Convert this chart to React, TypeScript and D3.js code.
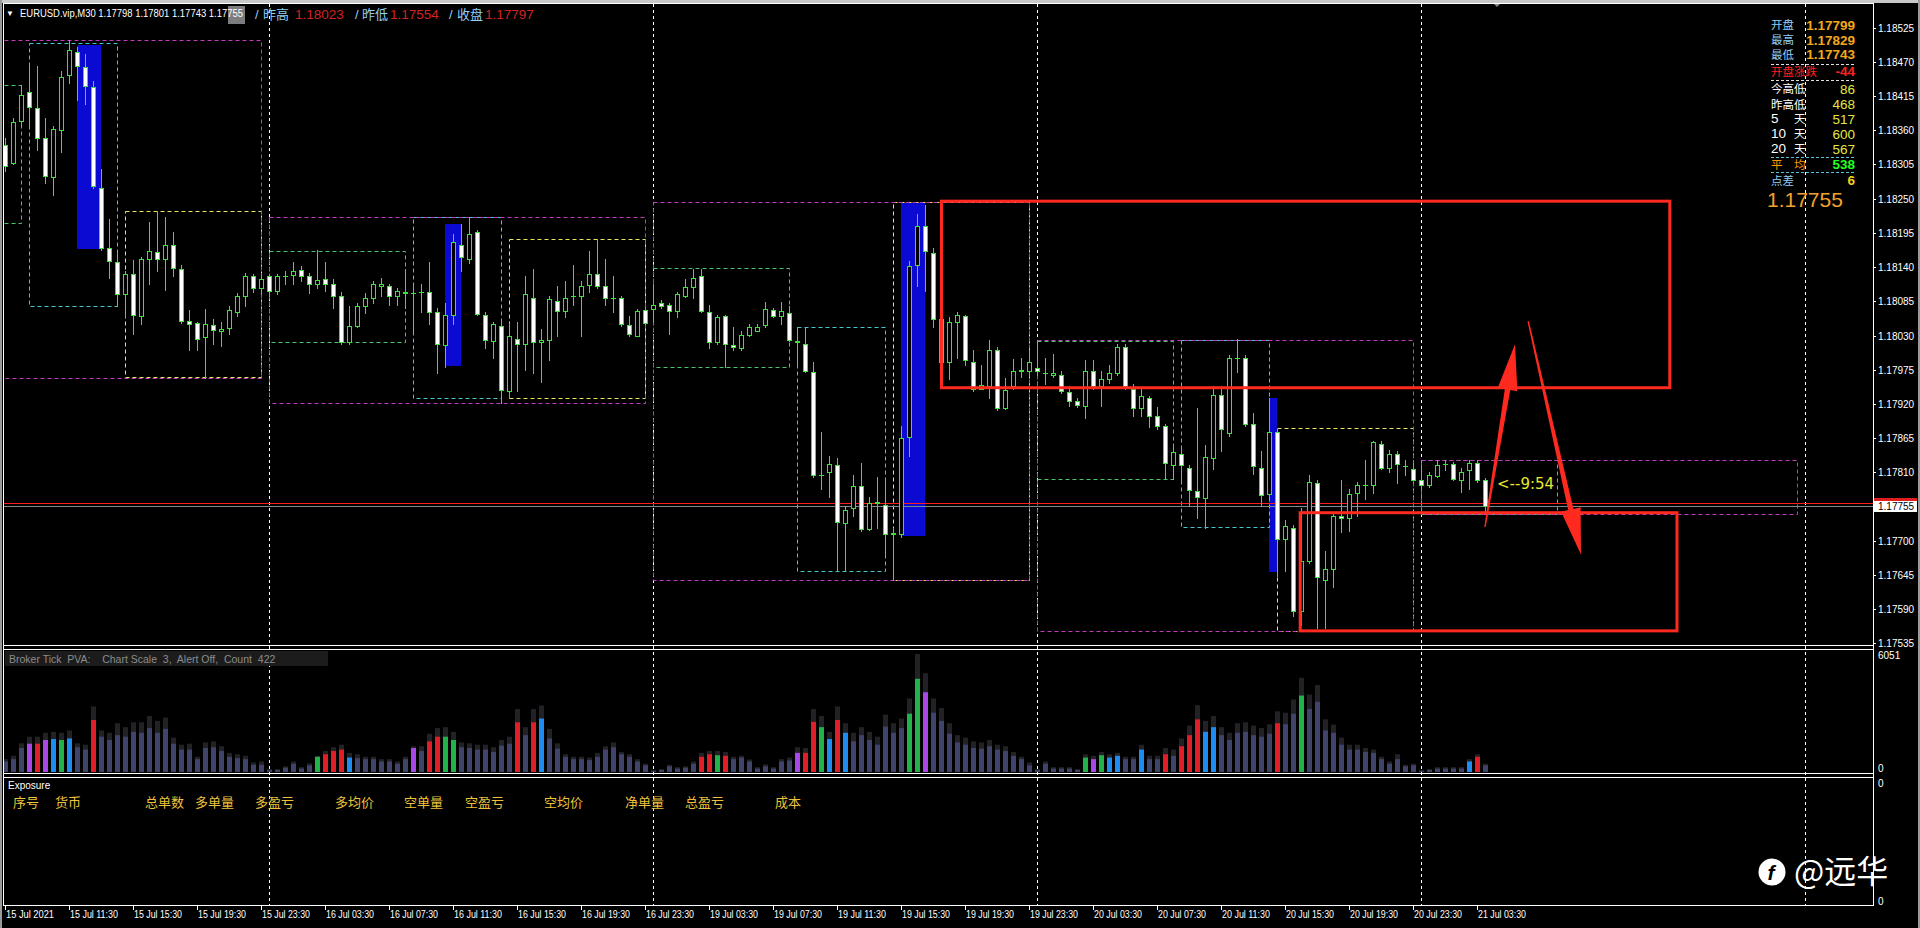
import React from "react";
import * as d3 from "d3";

const SANS = "'Liberation Sans', Arial, sans-serif";
const CJK = "'Noto Sans CJK SC', 'Noto Sans', sans-serif";

// ---------- data ----------
const opens = [
1.18336,1.18308,1.18375,1.18421,1.18396,1.18348,1.18285,1.18361,1.18449,1.18486,
1.18461,1.18429,1.18267,1.18171,1.18148,1.18096,1.18129,1.18062,1.18153,1.18165,
1.18153,1.18175,1.18137,1.18053,1.18050,1.18027,1.18047,1.18038,1.18042,1.18067,
1.18093,1.18125,1.18106,1.18125,1.18102,1.18125,1.18127,1.18135,1.18126,1.18113,
1.18121,1.18113,1.18094,1.18020,1.18046,1.18077,1.18090,1.18110,1.18110,1.18094,
1.18100,1.18098,1.18100,1.18100,1.18067,1.18015,1.18063,1.18176,1.18153,1.18196,
1.18063,1.18021,1.18046,1.17940,1.18025,1.18016,1.18090,1.18020,1.18023,1.18085,
1.18069,1.18094,1.18094,1.18112,1.18129,1.18110,1.18090,1.18090,1.18047,1.18030,
1.18071,1.18073,1.18083,1.18079,1.18069,1.18094,1.18108,1.18125,1.18067,1.18020,
1.18061,1.18015,1.18010,1.18031,1.18038,1.18047,1.18071,1.18061,1.18066,1.18021,
1.18016,1.17971,1.17806,1.17810,1.17821,1.17729,1.17752,1.17788,1.17719,1.17761,
1.17757,1.17712,1.17710,1.17867,1.18144,1.18206,1.18163,1.18056,1.17987,1.18052,
1.18061,1.17987,1.17944,1.17948,1.18006,1.17913,1.17948,1.17973,1.17973,1.17977,
1.17969,1.17966,1.17967,1.17939,1.17924,1.17917,1.17973,1.17948,1.17960,1.17970,
1.18012,1.17944,1.17913,1.17930,1.17900,1.17884,1.17821,1.17840,1.17817,1.17780,
1.17769,1.17833,1.17935,1.17873,1.17994,1.17994,1.17887,1.17817,1.17775,1.17875,
1.17702,1.17721,1.17587,1.17667,1.17793,1.17637,1.17654,1.17740,1.17737,1.17777,
1.17789,1.17789,1.17856,1.17817,1.17840,1.17820,1.17815,1.17798,1.17790,1.17804,
1.17823,1.17823,1.17798,1.17813,1.17825,1.17798];
const highs = [
1.18348,1.18379,1.18433,1.18469,1.18463,1.18379,1.18367,1.18456,1.18506,1.18494,
1.18483,1.18440,1.18298,1.18217,1.18163,1.18133,1.18152,1.18156,1.18213,1.18230,
1.18220,1.18196,1.18144,1.18071,1.18052,1.18073,1.18056,1.18052,1.18077,1.18098,
1.18130,1.18129,1.18127,1.18129,1.18129,1.18134,1.18148,1.18142,1.18130,1.18167,
1.18148,1.18121,1.18100,1.18077,1.18083,1.18098,1.18117,1.18123,1.18113,1.18106,
1.18137,1.18113,1.18113,1.18148,1.18075,1.18083,1.18194,1.18210,1.18220,1.18200,
1.18067,1.18052,1.18056,1.18050,1.18052,1.18125,1.18137,1.18040,1.18094,1.18110,
1.18117,1.18143,1.18117,1.18166,1.18185,1.18153,1.18125,1.18094,1.18061,1.18073,
1.18075,1.18113,1.18087,1.18083,1.18100,1.18121,1.18137,1.18137,1.18079,1.18063,
1.18063,1.18044,1.18038,1.18048,1.18048,1.18084,1.18075,1.18084,1.18077,1.18044,
1.18044,1.17987,1.17875,1.17837,1.17833,1.17756,1.17806,1.17825,1.17771,1.17802,
1.17798,1.17721,1.17884,1.18150,1.18225,1.18240,1.18171,1.18060,1.18060,1.18067,
1.18063,1.18007,1.17983,1.18023,1.18012,1.17961,1.17992,1.17994,1.18006,1.18021,
1.17994,1.18000,1.17973,1.17948,1.17929,1.17990,1.17990,1.17973,1.17983,1.18017,
1.18017,1.17952,1.17946,1.17933,1.17915,1.17887,1.17854,1.17852,1.17821,1.17913,
1.17854,1.17948,1.17948,1.17998,1.18025,1.17998,1.17906,1.17844,1.17929,1.17879,
1.17733,1.17725,1.17752,1.17806,1.17798,1.17683,1.17744,1.17798,1.17783,1.17794,
1.17829,1.17861,1.17860,1.17846,1.17844,1.17829,1.17825,1.17821,1.17810,1.17830,
1.17830,1.17827,1.17817,1.17829,1.17829,1.17801];
const lows = [
1.18294,1.18306,1.18367,1.18367,1.18329,1.18275,1.18256,1.18325,1.18436,1.18409,
1.18402,1.18267,1.18167,1.18123,1.18077,1.18060,1.18033,1.18048,1.18113,1.18133,
1.18103,1.18125,1.18050,1.18007,1.18006,1.17961,1.18017,1.18013,1.18033,1.18061,
1.18077,1.18100,1.18098,1.18094,1.18096,1.18113,1.18113,1.18117,1.18098,1.18107,
1.18102,1.18075,1.18017,1.18017,1.18044,1.18066,1.18083,1.18094,1.18079,1.18079,
1.18075,1.18037,1.18067,1.18048,1.17969,1.17979,1.18048,1.18133,1.18146,1.18063,
1.18010,1.17994,1.17921,1.17929,1.17940,1.17975,1.17969,1.17956,1.17990,1.18029,
1.18060,1.18079,1.18030,1.18100,1.18106,1.18079,1.18067,1.18046,1.18030,1.18029,
1.18048,1.18052,1.18075,1.18033,1.18060,1.18092,1.18090,1.18067,1.18010,1.18017,
1.17979,1.18006,1.18007,1.18029,1.18037,1.18044,1.18060,1.18048,1.18021,1.17979,
1.17971,1.17802,1.17783,1.17771,1.17652,1.17652,1.17740,1.17715,1.17717,1.17721,
1.17679,1.17637,1.17706,1.17837,1.18110,1.18102,1.18044,1.17983,1.17960,1.17994,
1.17983,1.17940,1.17944,1.17929,1.17910,1.17912,1.17944,1.17963,1.17967,1.17967,
1.17952,1.17963,1.17937,1.17917,1.17915,1.17898,1.17944,1.17917,1.17953,1.17967,
1.17944,1.17900,1.17900,1.17883,1.17879,1.17800,1.17800,1.17798,1.17756,1.17737,
1.17721,1.17815,1.17844,1.17869,1.17971,1.17884,1.17807,1.17756,1.17771,1.17644,
1.17652,1.17579,1.17564,1.17664,1.17560,1.17560,1.17625,1.17714,1.17715,1.17740,
1.17767,1.17777,1.17815,1.17810,1.17792,1.17806,1.17797,1.17787,1.17787,1.17802,
1.17813,1.17798,1.17779,1.17783,1.17794,1.17743];
const closes = [
1.18302,1.18373,1.18417,1.18398,1.18348,1.18286,1.18362,1.18446,1.18489,1.18463,
1.18431,1.18270,1.18171,1.18150,1.18096,1.18129,1.18063,1.18153,1.18166,1.18153,
1.18175,1.18139,1.18053,1.18048,1.18025,1.18048,1.18039,1.18040,1.18071,1.18093,
1.18125,1.18106,1.18121,1.18102,1.18125,1.18126,1.18134,1.18125,1.18113,1.18120,
1.18113,1.18094,1.18020,1.18046,1.18077,1.18090,1.18113,1.18113,1.18094,1.18102,
1.18099,1.18098,1.18100,1.18067,1.18017,1.18063,1.18180,1.18156,1.18194,1.18065,
1.18023,1.18048,1.17943,1.18029,1.18017,1.18096,1.18020,1.18023,1.18088,1.18070,
1.18090,1.18094,1.18110,1.18129,1.18110,1.18090,1.18090,1.18048,1.18033,1.18070,
1.18050,1.18079,1.18077,1.18069,1.18096,1.18108,1.18123,1.18069,1.18020,1.18060,
1.18016,1.18011,1.18031,1.18044,1.18044,1.18073,1.18062,1.18069,1.18023,1.18020,
1.17973,1.17806,1.17805,1.17823,1.17730,1.17750,1.17788,1.17719,1.17760,1.17762,
1.17711,1.17711,1.17865,1.18142,1.18206,1.18166,1.18056,1.17987,1.18052,1.18063,
1.17990,1.17944,1.17950,1.18007,1.17913,1.17943,1.17973,1.17974,1.17987,1.17973,
1.17969,1.17969,1.17940,1.17925,1.17919,1.17973,1.17948,1.17960,1.17970,1.18012,
1.17948,1.17913,1.17933,1.17900,1.17884,1.17825,1.17842,1.17821,1.17781,1.17771,
1.17834,1.17935,1.17879,1.17994,1.17994,1.17887,1.17820,1.17774,1.17875,1.17702,
1.17723,1.17587,1.17667,1.17794,1.17642,1.17654,1.17740,1.17737,1.17775,1.17789,
1.17789,1.17858,1.17817,1.17840,1.17823,1.17820,1.17798,1.17789,1.17806,1.17821,
1.17823,1.17800,1.17810,1.17825,1.17798,1.17755];

const tickVolume = [
540,660,1230,1450,1450,1640,1690,1640,1720,1270,
1150,2670,1810,1640,1890,1810,2060,2010,2250,2010,
2210,1450,1150,1150,660,1230,1270,1080,780,710,
660,370,370,100,100,220,420,170,340,780,
910,1080,1150,740,710,660,660,540,540,420,
660,1230,1080,1570,1810,1810,1640,1270,1230,1150,
1150,1030,1350,1450,2550,1890,2550,2740,1720,1200,
780,660,660,610,780,1150,1270,910,780,540,
340,50,100,290,170,220,420,780,910,860,
830,660,740,540,170,290,170,540,590,980,
980,2570,2300,1690,2670,2010,1570,1890,1640,1400,
2330,2010,2250,2990,4780,4090,3040,2620,1960,1520,
1400,1230,1200,1320,1150,1080,830,660,340,100,
420,170,170,170,100,740,660,860,740,830,
660,660,1150,660,660,910,830,1320,1890,2700,
2060,2300,1890,1640,2010,2060,1890,1810,1960,2500,
2450,2990,3920,3230,3600,2130,2010,1400,1150,1150,
1030,980,660,420,660,290,340,50,100,170,
170,170,170,540,780,340];
const tickVolumeHigh = [
660,830,1470,1810,1810,2010,2060,2010,2130,1470,
1400,3360,2130,2010,2500,2300,2550,2550,2870,2620,
2790,1760,1400,1450,780,1520,1570,1320,980,910,
830,490,540,150,150,290,540,250,440,830,
1080,1270,1400,980,910,780,780,660,660,540,
780,1320,1320,1960,2250,2300,2060,1520,1470,1400,
1400,1270,1640,1810,3230,2300,3230,3410,2210,1470,
910,780,780,740,980,1320,1520,1030,910,660,
420,100,150,370,250,290,540,980,1080,1080,
1030,780,830,640,250,390,250,660,740,1270,
1230,3230,2870,2060,3360,2500,2010,2300,2060,1810,
2940,2500,2740,3770,6051,5070,3770,3280,2500,1890,
1760,1570,1520,1640,1400,1320,1030,780,490,150,
540,250,250,250,150,910,830,1030,910,980,
780,780,1400,830,830,1230,1150,1720,2380,3430,
2620,2870,2300,2010,2500,2550,2380,2250,2450,3110,
3040,3720,4830,3970,4460,2700,2430,1760,1400,1400,
1230,1150,780,540,910,370,420,100,150,250,
250,250,250,660,910,420];
// s = plain, r/g/b/p = signal colours of the PVA indicator
const volumeClass = (
  "sssprpbgbs" + "srssssssss" + "ssssssssss" + "sssssssssg" + "rrrbssssss" +
  "spsrrggsss" + "ssssrsrbss" + "ssssssssss" + "sssssssrrg" + "rssssssssp" +
  "rrgbrbssss" + "sssggpssss" + "ssssssssss" + "sssssgpgbb" + "ssbssrsrrr" +
  "bbsssssssr" + "ssgsssssss" + "ssssssssss" + "sssbrs").split("");

const timeLabels = ["15 Jul 2021","15 Jul 11:30","15 Jul 15:30","15 Jul 19:30","15 Jul 23:30","16 Jul 03:30","16 Jul 07:30","16 Jul 11:30","16 Jul 15:30","16 Jul 19:30","16 Jul 23:30","19 Jul 03:30","19 Jul 07:30","19 Jul 11:30","19 Jul 15:30","19 Jul 19:30","19 Jul 23:30","20 Jul 03:30","20 Jul 07:30","20 Jul 11:30","20 Jul 15:30","20 Jul 19:30","20 Jul 23:30","21 Jul 03:30"];
const timeLabelBars = [0,8,16,24,32,40,48,56,64,72,80,88,96,104,112,120,128,136,144,152,160,168,176,184];
const priceTicks = ["1.18525","1.18470","1.18415","1.18360","1.18305","1.18250","1.18195","1.18140","1.18085","1.18030","1.17975","1.17920","1.17865","1.17810","1.17755","1.17700","1.17645","1.17590","1.17535"];
const daySeparatorBars = [33, 81, 129, 177, 225];

const dayBoxes = [
  { s: -15, e: 32, hi: 1.18506, lo: 1.17962 },
  { s: 33, e: 80, hi: 1.18220, lo: 1.17921 },
  { s: 81, e: 128, hi: 1.18245, lo: 1.17637 },
  { s: 129, e: 176, hi: 1.18023, lo: 1.17555 },
  { s: 177, e: 224, hi: 1.17830, lo: 1.17743 },
];
const asiaBoxes = [
  { s: -15, e: 2, hi: 1.18433, lo: 1.18211 },
  { s: 33, e: 50, hi: 1.18166, lo: 1.18020 },
  { s: 81, e: 98, hi: 1.18139, lo: 1.17979 },
  { s: 129, e: 146, hi: 1.18021, lo: 1.17799 },
  { s: 177, e: 194, hi: 1.17830, lo: 1.17743 },
];
const europeBoxes = [
  { s: 3, e: 14, hi: 1.18500, lo: 1.18077 },
  { s: 51, e: 62, hi: 1.18220, lo: 1.17929 },
  { s: 99, e: 110, hi: 1.18043, lo: 1.17652 },
  { s: 147, e: 158, hi: 1.18023, lo: 1.17722 },
];
const usBoxes = [
  { s: 15, e: 32, hi: 1.18230, lo: 1.17963 },
  { s: 63, e: 80, hi: 1.18185, lo: 1.17930 },
  { s: 111, e: 128, hi: 1.18245, lo: 1.17637 },
  { s: 159, e: 176, hi: 1.17881, lo: 1.17555 },
];
const impulseZones = [
  { s: 9, e: 12, hi: 1.18497, lo: 1.18169 },
  { s: 55, e: 57, hi: 1.18209, lo: 1.17981 },
  { s: 112, e: 115, hi: 1.18243, lo: 1.17708 },
  { s: 158, e: 159, hi: 1.17929, lo: 1.17650 },
];
const markBoxes = [
  { s: 117.06, e: 208.1, hi: 1.18246, lo: 1.17946 },
  { s: 161.9, e: 209, hi: 1.17745, lo: 1.17555 },
];
const markArrows = [
  { s: 185, p0: 1.17722, e: 188.75, p1: 1.18016 },
  { s: 190.4, p0: 1.18053, e: 197, p1: 1.17678 },
];

const bidPrice = 1.17755;
const askPrice = 1.17761;

const infoNames = [["开盘"], ["最高"], ["最低"], ["开盘涨跌"], ["今高低"], ["昨高低"], ["5", "天"], ["10", "天"], ["20", "天"], ["平", "均"], ["点差"]];
const infoValues = ["1.17799", "1.17829", "1.17743", "-44", "86", "468", "517", "600", "567", "538", "6"];
const infoNameColors = ["#92cff5", "#92cff5", "#92cff5", "#ff2222", "#ffffff", "#ffffff", "#ffffff", "#ffffff", "#ffffff", "#ff9a00", "#92cff5"];
const infoValueColors = ["#f2a81d", "#f2a81d", "#f2a81d", "#ff2222", "#e6e640", "#e6e640", "#e6e640", "#e6e640", "#e6e640", "#22ff22", "#f6d21c"];
const infoValueBold = [true, true, true, true, false, false, false, false, false, true, true];
const infoRowY = [24.7, 39.7, 54, 71, 88.7, 104, 118.7, 133.7, 148.7, 164, 180];

const exposureHeaders = ["序号", "货币", "总单数", "多单量", "多盈亏", "多均价", "空单量", "空盈亏", "空均价", "净单量", "总盈亏", "成本"];
const exposureHeaderX = [13, 55, 145, 195, 255, 335, 404, 465, 544, 625, 685, 775];

const VOL_COLORS: Record<string, string> = { s: "#40436a", r: "#e01e28", g: "#22b24a", b: "#1e8cf0", p: "#a848e6" };

function taper(x1: number, y1: number, x2: number, y2: number, w0: number, w1: number, headLen: number, headHalf: number) {
  const dx = x2 - x1, dy = y2 - y1;
  const L = Math.hypot(dx, dy);
  const ux = dx / L, uy = dy / L;
  const px = -uy, py = ux;
  const bx = x2 - ux * headLen, by = y2 - uy * headLen;
  const pts = [
    [x1 + px * w0 / 2, y1 + py * w0 / 2],
    [bx + px * w1 / 2, by + py * w1 / 2],
    [bx + px * headHalf, by + py * headHalf],
    [x2, y2],
    [bx - px * headHalf, by - py * headHalf],
    [bx - px * w1 / 2, by - py * w1 / 2],
    [x1 - px * w0 / 2, y1 - py * w0 / 2],
  ];
  return pts.map((p) => p[0].toFixed(1) + "," + p[1].toFixed(1)).join(" ");
}

export default function App() {
  const x = d3.scaleLinear().domain([0, 185]).range([5, 1485]);
  const y = d3.scaleLinear().domain([1.17535, 1.18525]).range([643.3, 27.7]);
  const vy = d3.scaleLinear().domain([0, 6051]).range([772, 654]);

  const RIGHT = 1873;
  const px = (i: number) => Math.round(x(i));
  const py = (p: number) => Math.round(y(p));

  const dashedBox = (b: any, color: string, key: string) => (
    <rect key={key} x={px(b.s) + 0.5} y={py(b.hi) + 0.5} width={px(b.e) - px(b.s)} height={py(b.lo) - py(b.hi)}
      fill="none" stroke={color} strokeWidth={1} strokeDasharray="4,3" />
  );

  return (
    <div style={{ position: "fixed", left: 0, top: 0, width: 1920, height: 928, background: "#000" }}>
      <svg width={1920} height={928} style={{ display: "block" }}>
        <defs>
          <clipPath id="mainClip"><rect x={4} y={4} width={RIGHT - 4} height={641} /></clipPath>
          <clipPath id="volClip"><rect x={4} y={650} width={RIGHT - 4} height={123} /></clipPath>
        </defs>
        <rect x={0} y={0} width={1920} height={928} fill="#000" />
        {/* window frame */}
        <rect x={0} y={0} width={1920} height={3} fill="#c8c8c8" />
        <rect x={0} y={0} width={2} height={928} fill="#9a9a9a" />
        <rect x={1918} y={0} width={2} height={928} fill="#9a9a9a" />
        <polygon points={`${x(186.5) - 4},3 ${x(186.5) + 4},3 ${x(186.5)},7`} fill="#8a8a8a" />

        {/* day separators */}
        {daySeparatorBars.map((b) => (
          <line key={"sep" + b} x1={px(b) + 0.5} x2={px(b) + 0.5} y1={4} y2={905} stroke="#ffffff" strokeWidth={1} strokeDasharray="3,3" />
        ))}

        <g clipPath="url(#mainClip)">
          {impulseZones.map((z, k) => (
            <rect key={"bz" + k} x={px(z.s)} y={py(z.hi)} width={px(z.e) - px(z.s)} height={py(z.lo) - py(z.hi)} fill="#0a0ad2" />
          ))}
          {usBoxes.map((b, k) => dashedBox(b, "#e8e85a", "u" + k))}
          {europeBoxes.map((b, k) => dashedBox(b, "#44c8c8", "e" + k))}
          {asiaBoxes.map((b, k) => dashedBox(b, "#4cc46e", "a" + k))}
          {dayBoxes.map((b, k) => dashedBox(b, "#c23cc2", "d" + k))}

          {/* price lines */}
          <line x1={3} x2={RIGHT} y1={py(bidPrice) + 0.5} y2={py(bidPrice) + 0.5} stroke="#7d8a90" strokeWidth={1} />
          <line x1={3} x2={RIGHT} y1={py(askPrice) + 0.5} y2={py(askPrice) + 0.5} stroke="#ff1c1c" strokeWidth={1} />

          {/* candles */}
          {opens.map((o, i) => {
            const c = closes[i];
            const xi = px(i);
            const top = py(Math.max(o, c));
            const bot = py(Math.min(o, c));
            const bull = c >= o;
            return (
              <g key={"c" + i}>
                <line x1={xi + 0.5} x2={xi + 0.5} y1={py(highs[i])} y2={py(lows[i]) + 1} stroke="#3ee03e" strokeWidth={1} />
                <rect x={xi - 1.5} y={top + 0.5} width={4} height={Math.max(bot - top, 0.01)}
                  fill={bull ? "#000" : "#ffffff"} stroke="#3ee03e" strokeWidth={1} />
              </g>
            );
          })}

          {/* annotations */}
          {markBoxes.map((b, k) => (
            <rect key={"mb" + k} x={x(b.s)} y={y(b.hi)} width={x(b.e) - x(b.s)} height={y(b.lo) - y(b.hi)}
              fill="none" stroke="#ff2a1f" strokeWidth={3} />
          ))}
          {markArrows.map((a, k) => (
            <polygon key={"ma" + k} points={taper(x(a.s), y(a.p0), x(a.e), y(a.p1), 1.5, 5.5, 46, 10)} fill="#ff2a1f" />
          ))}
          <text x={x(185) + 12} y={py(bidPrice) - 17} fontFamily="'DejaVu Sans', sans-serif" fontSize={15} fill="#e8e830">{"<--9:54"}</text>
        </g>

        {/* header */}
        <text x={6} y={16} fontFamily={SANS} fontSize={8} fill="#ffffff">▼</text>
        <rect x={228} y={6} width={17} height={18} fill="#7c7c7c" />
        <text x={20} y={17} fontFamily={SANS} fontSize={10} fill="#ffffff" textLength={223} lengthAdjust="spacingAndGlyphs">EURUSD.vip,M30  1.17798 1.17801 1.17743 1.17755</text>
        <text x={255} y={19} fontFamily={SANS} fontSize={13} fill="#92cff5">/</text>
        <text x={263} y={19} fontFamily={CJK} fontSize={13} fill="#92cff5">昨高</text>
        <text x={295} y={19} fontFamily={SANS} fontSize={13.5} fill="#d42222">1.18023</text>
        <text x={355} y={19} fontFamily={SANS} fontSize={13} fill="#92cff5">/</text>
        <text x={362} y={19} fontFamily={CJK} fontSize={13} fill="#92cff5">昨低</text>
        <text x={390} y={19} fontFamily={SANS} fontSize={13.5} fill="#d42222">1.17554</text>
        <text x={449} y={19} fontFamily={SANS} fontSize={13} fill="#92cff5">/</text>
        <text x={457} y={19} fontFamily={CJK} fontSize={13} fill="#92cff5">收盘</text>
        <text x={485} y={19} fontFamily={SANS} fontSize={13.5} fill="#d42222">1.17797</text>

        {/* info panel */}
        {infoNames.map((parts, k) => {
          const num = /\d/.test(parts[0]);
          return (
            <g key={"inf" + k}>
              <text x={1771} y={infoRowY[k] + 4.5} fontFamily={num ? SANS : CJK} fontSize={num ? 13.5 : 11.5} fill={infoNameColors[k]}>{parts[0]}</text>
              {parts[1] && <text x={1794} y={infoRowY[k] + 4.5} fontFamily={CJK} fontSize={11.5} fill={infoNameColors[k]}>{parts[1]}</text>}
              <text x={1855} y={infoRowY[k] + 5} textAnchor="end" fontFamily={SANS} fontSize={13.5} fontWeight={infoValueBold[k] ? "bold" : "normal"} fill={infoValueColors[k]}>{infoValues[k]}</text>
            </g>
          );
        })}
        <line x1={1771} x2={1855} y1={64.5} y2={64.5} stroke="#e0e0e0" strokeDasharray="3,2" />
        <line x1={1771} x2={1855} y1={80.5} y2={80.5} stroke="#e0e0e0" strokeDasharray="3,2" />
        <line x1={1771} x2={1855} y1={157.5} y2={157.5} stroke="#5cc0d8" strokeDasharray="3,2" />
        <line x1={1771} x2={1855} y1={172.5} y2={172.5} stroke="#5cc0d8" strokeDasharray="3,2" />
        <text x={1767} y={206.5} fontFamily={SANS} fontSize={21} fill="#f0a22c">1.17755</text>

        {/* volume panel */}
        <rect x={5} y={651} width={323} height={15} fill="#1c1c1c" />
        <text x={9} y={662.5} fontFamily={SANS} fontSize={10.5} fill="#8c8c8c" style={{ whiteSpace: "pre" }}>{"Broker Tick  PVA:    Chart Scale  3,  Alert Off,  Count  422"}</text>
        <g clipPath="url(#volClip)">
          {tickVolume.map((v, i) => {
            const xi = px(i);
            return (
              <g key={"v" + i}>
                <rect x={xi - 2} y={vy(tickVolumeHigh[i])} width={5} height={vy(0) - vy(tickVolumeHigh[i])} fill="#222226" />
                <rect x={xi - 2} y={vy(v)} width={5} height={vy(0) - vy(v)} fill={VOL_COLORS[volumeClass[i]]} />
              </g>
            );
          })}
        </g>

        {/* exposure panel */}
        <text x={8} y={789} fontFamily={SANS} fontSize={10} fill="#ffffff">Exposure</text>
        {exposureHeaders.map((h, k) => (
          <text key={"ex" + k} x={exposureHeaderX[k]} y={807} fontFamily={CJK} fontSize={13} fill="#efc23a">{h}</text>
        ))}

        {/* panel borders */}
        <line x1={3} x2={RIGHT} y1={3.5} y2={3.5} stroke="#ffffff" />
        <line x1={3} x2={RIGHT} y1={645.5} y2={645.5} stroke="#ffffff" />
        <line x1={3} x2={RIGHT} y1={649.5} y2={649.5} stroke="#ffffff" />
        <line x1={3} x2={RIGHT} y1={773.5} y2={773.5} stroke="#ffffff" />
        <line x1={3} x2={RIGHT} y1={777.5} y2={777.5} stroke="#ffffff" />
        <line x1={3} x2={RIGHT + 1} y1={905.5} y2={905.5} stroke="#ffffff" />
        <line x1={3.5} x2={3.5} y1={3} y2={906} stroke="#ffffff" />
        <line x1={RIGHT + 0.5} x2={RIGHT + 0.5} y1={3} y2={906} stroke="#ffffff" />

        {/* price axis */}
        {priceTicks.map((t) => (
          <g key={"pt" + t}>
            <line x1={RIGHT} x2={RIGHT + 3} y1={py(+t) + 0.5} y2={py(+t) + 0.5} stroke="#ffffff" />
            <text x={RIGHT + 5} y={py(+t) + 4} fontFamily={SANS} fontSize={10} fill="#ffffff">{t}</text>
          </g>
        ))}
        <rect x={RIGHT + 1} y={py(askPrice) - 5} width={43} height={9} fill="#e01e1e" />
        <rect x={RIGHT + 1} y={py(bidPrice) - 5} width={43} height={11} fill="#ffffff" />
        <text x={RIGHT + 5} y={py(bidPrice) + 4} fontFamily={SANS} fontSize={10} fill="#000000">{bidPrice.toFixed(5)}</text>

        <text x={RIGHT + 5} y={659} fontFamily={SANS} fontSize={10} fill="#ffffff">6051</text>
        <text x={RIGHT + 5} y={772} fontFamily={SANS} fontSize={10} fill="#ffffff">0</text>
        <text x={RIGHT + 5} y={787} fontFamily={SANS} fontSize={10} fill="#ffffff">0</text>
        <text x={RIGHT + 5} y={905} fontFamily={SANS} fontSize={10} fill="#ffffff">0</text>

        {/* time axis */}
        {timeLabels.map((t, k) => (
          <g key={"tl" + k}>
            <line x1={px(timeLabelBars[k]) + 0.5} x2={px(timeLabelBars[k]) + 0.5} y1={906} y2={910} stroke="#ffffff" />
            <text x={px(timeLabelBars[k]) + 1} y={918} fontFamily={SANS} fontSize={10} fill="#ffffff" textLength={48} lengthAdjust="spacingAndGlyphs">{t}</text>
          </g>
        ))}

        {/* watermark */}
        <circle cx={1772} cy={872} r={13.5} fill="#ffffff" />
        <text x={1771} y={880} textAnchor="middle" fontFamily={SANS} fontSize={21} fontWeight="bold" fontStyle="italic" fill="#000000">f</text>
        <text x={1794} y={883} fontFamily={CJK} fontSize={32} fill="#ffffff">@远华</text>
      </svg>
    </div>
  );
}
